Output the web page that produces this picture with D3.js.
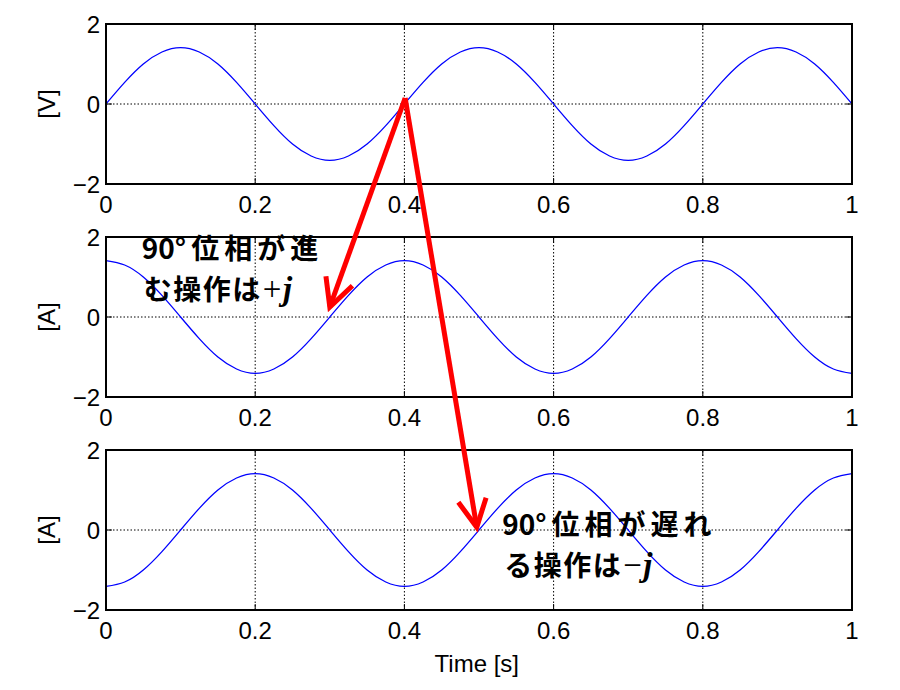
<!DOCTYPE html>
<html>
<head>
<meta charset="UTF-8">
<title>Phase shift by j</title>
<script src="https://d3js.org/d3.v7.min.js"></script>
<style>
    body { margin: 0; background: #fff; }
    .frame { fill: none; stroke: #000; stroke-width: 2px; }
    .grid { stroke: #000; stroke-width: 1px; stroke-dasharray: 1.5,2; }
    .wave { fill: none; stroke: #0000ff; stroke-width: 1.3px; }
    .tick-lbl { font: 24px "Liberation Sans", "Noto Sans", sans-serif; fill: #000; }
    .arrow { fill: none; stroke: #ff0000; stroke-width: 5px; stroke-linejoin: miter; }
    .note { font-family: "Noto Sans CJK JP", sans-serif; font-weight: bold; font-size: 28px; fill: #000; }
</style>
</head>
<body>
<svg width="900" height="690"></svg>
<script>
// sample times [s]
var time = [0, 0.025, 0.05, 0.075, 0.1, 0.125, 0.15, 0.175, 0.2, 0.225,
            0.25, 0.275, 0.3, 0.325, 0.35, 0.375, 0.4, 0.425, 0.45, 0.475,
            0.5, 0.525, 0.55, 0.575, 0.6, 0.625, 0.65, 0.675, 0.7, 0.725,
            0.75, 0.775, 0.8, 0.825, 0.85, 0.875, 0.9, 0.925, 0.95, 0.975, 1];

// voltage [V] (top)
var voltage = [0, 0.54, 1.0, 1.30, 1.41, 1.30, 1.0, 0.54, 0, -0.54,
               -1.0, -1.30, -1.41, -1.30, -1.0, -0.54, 0, 0.54, 1.0, 1.30,
               1.41, 1.30, 1.0, 0.54, 0, -0.54, -1.0, -1.30, -1.41, -1.30,
               -1.0, -0.54, 0, 0.54, 1.0, 1.30, 1.41, 1.30, 1.0, 0.54, 0];

// current leading by 90 deg [A] (middle)
var currentLead = [1.41, 1.30, 1.0, 0.54, 0, -0.54, -1.0, -1.30, -1.41, -1.30,
                   -1.0, -0.54, 0, 0.54, 1.0, 1.30, 1.41, 1.30, 1.0, 0.54,
                   0, -0.54, -1.0, -1.30, -1.41, -1.30, -1.0, -0.54, 0, 0.54,
                   1.0, 1.30, 1.41, 1.30, 1.0, 0.54, 0, -0.54, -1.0, -1.30, -1.41];

// current lagging by 90 deg [A] (bottom)
var currentLag = [-1.41, -1.30, -1.0, -0.54, 0, 0.54, 1.0, 1.30, 1.41, 1.30,
                  1.0, 0.54, 0, -0.54, -1.0, -1.30, -1.41, -1.30, -1.0, -0.54,
                  0, 0.54, 1.0, 1.30, 1.41, 1.30, 1.0, 0.54, 0, -0.54,
                  -1.0, -1.30, -1.41, -1.30, -1.0, -0.54, 0, 0.54, 1.0, 1.30, 1.41];

var xTicks = [0, 0.2, 0.4, 0.6, 0.8, 1];
var xTickLabels = ['0', '0.2', '0.4', '0.6', '0.8', '1'];
var yTicks = [-2, 0, 2];
var yTickLabels = ['\u22122', '0', '2'];
var yLabels = ['[V]', '[A]', '[A]'];
var xLabel = 'Time [s]';

// arrows: from (t, v) on panel p to (t, v) on panel p
var arrows = [
    { from: [0.401, 0.15, 0], to: [0.300, 0.25, 1] },
    { from: [0.401, 0.15, 0], to: [0.497, 0.07, 2] }
];
// notes: panel, t, v, two lines (second line ends with italic j)
var notes = [
    { panel: 1, t: 0.048, v: 1.45, head: '90°', line1: '位相が進', line2: 'む操作は', sign: '+' },
    { panel: 2, t: 0.531, v: -0.12, head: '90°', line1: '位相が遅れ', line2: 'る操作は', sign: '\u2212' }
];

var svg = d3.select('svg');
var left = 106, right = 852, panelH = 160;
var panelTops = [24, 237, 450];

var x = d3.scaleLinear().domain([0, 1]).range([left, right]);
var yScales = panelTops.map(function(top) {
    return d3.scaleLinear().domain([-2, 2]).range([top + panelH, top]);
});
var seriesList = [voltage, currentLead, currentLag];

panelTops.forEach(function(top, i) {
    var y = yScales[i];
    var g = svg.append('g').attr('class', 'panel');

    // grid
    g.selectAll('.gx').data(xTicks.slice(1, -1)).enter().append('line')
        .attr('class', 'grid')
        .attr('x1', d => x(d)).attr('x2', d => x(d))
        .attr('y1', y(-2)).attr('y2', y(2));
    g.append('line').attr('class', 'grid')
        .attr('x1', x(0)).attr('x2', x(1))
        .attr('y1', y(0)).attr('y2', y(0));

    // inward ticks
    var tickIn = 6;
    xTicks.forEach(function(t) {
        g.append('line').attr('stroke', '#000').attr('stroke-width', 1)
            .attr('x1', x(t)).attr('x2', x(t)).attr('y1', y(-2)).attr('y2', y(-2) - tickIn);
        g.append('line').attr('stroke', '#000').attr('stroke-width', 1)
            .attr('x1', x(t)).attr('x2', x(t)).attr('y1', y(2)).attr('y2', y(2) + tickIn);
    });
    yTicks.forEach(function(v) {
        g.append('line').attr('stroke', '#000').attr('stroke-width', 1)
            .attr('x1', x(0)).attr('x2', x(0) + tickIn).attr('y1', y(v)).attr('y2', y(v));
        g.append('line').attr('stroke', '#000').attr('stroke-width', 1)
            .attr('x1', x(1)).attr('x2', x(1) - tickIn).attr('y1', y(v)).attr('y2', y(v));
    });

    // wave
    var line = d3.line()
        .curve(d3.curveNatural)
        .x((d, k) => x(time[k]))
        .y(d => y(d));
    g.append('path').attr('class', 'wave').attr('d', line(seriesList[i]));

    // frame
    g.append('rect').attr('class', 'frame')
        .attr('x', x(0)).attr('y', y(2))
        .attr('width', x(1) - x(0)).attr('height', y(-2) - y(2));

    // tick labels
    g.selectAll('.xl').data(xTicks).enter().append('text')
        .attr('class', 'tick-lbl')
        .attr('x', d => x(d)).attr('y', y(-2) + 29)
        .attr('text-anchor', 'middle')
        .text((d, k) => xTickLabels[k]);
    g.selectAll('.yl').data(yTicks).enter().append('text')
        .attr('class', 'tick-lbl')
        .attr('x', x(0) - 6).attr('y', d => y(d))
        .attr('dy', '0.36em')
        .attr('text-anchor', 'end')
        .text((d, k) => yTickLabels[k]);

    // y label
    g.append('text')
        .attr('class', 'tick-lbl')
        .attr('transform', 'translate(55,' + y(0) + ') rotate(-90)')
        .attr('text-anchor', 'middle')
        .text(yLabels[i]);
});

svg.append('text')
    .attr('class', 'tick-lbl')
    .attr('x', x(0.497)).attr('y', 672)
    .attr('text-anchor', 'middle')
    .text(xLabel);

// notes
notes.forEach(function(n) {
    var y = yScales[n.panel];
    var px = x(n.t), py = y(n.v);
    var t1 = svg.append('text').attr('class', 'note')
        .attr('x', px).attr('y', py);
    t1.append('tspan').text(n.head);
    t1.append('tspan').attr('dx', 5)
        .style('letter-spacing', '5px')
        .text(n.line1);
    var t2 = svg.append('text').attr('class', 'note')
        .attr('x', px + 2).attr('y', py + 41)
        .style('letter-spacing', '1.5px');
    t2.append('tspan').text(n.line2);
    t2.append('tspan')
        .attr('dx', 1)
        .style('font-family', '"Liberation Serif", serif')
        .style('font-weight', 'normal')
        .style('font-size', '33px')
        .text(n.sign);
    t2.append('tspan')
        .style('font-family', '"Liberation Serif", serif')
        .style('font-style', 'italic')
        .style('font-size', '33px')
        .text('j');
});

// arrows
arrows.forEach(function(a) {
    var x0 = x(a.from[0]), y0 = yScales[a.from[2]](a.from[1]);
    var x1 = x(a.to[0]), y1 = yScales[a.to[2]](a.to[1]);
    var ang = Math.atan2(y0 - y1, x0 - x1);
    var len = 31, spread = 27 * Math.PI / 180;
    svg.append('line').attr('class', 'arrow')
        .attr('x1', x0).attr('y1', y0).attr('x2', x1).attr('y2', y1);
    var wing = d3.path();
    wing.moveTo(x1 + len * Math.cos(ang + spread), y1 + len * Math.sin(ang + spread));
    wing.lineTo(x1, y1);
    wing.lineTo(x1 + len * Math.cos(ang - spread), y1 + len * Math.sin(ang - spread));
    svg.append('path').attr('class', 'arrow').attr('d', wing.toString());
});
</script>
</body>
</html>
